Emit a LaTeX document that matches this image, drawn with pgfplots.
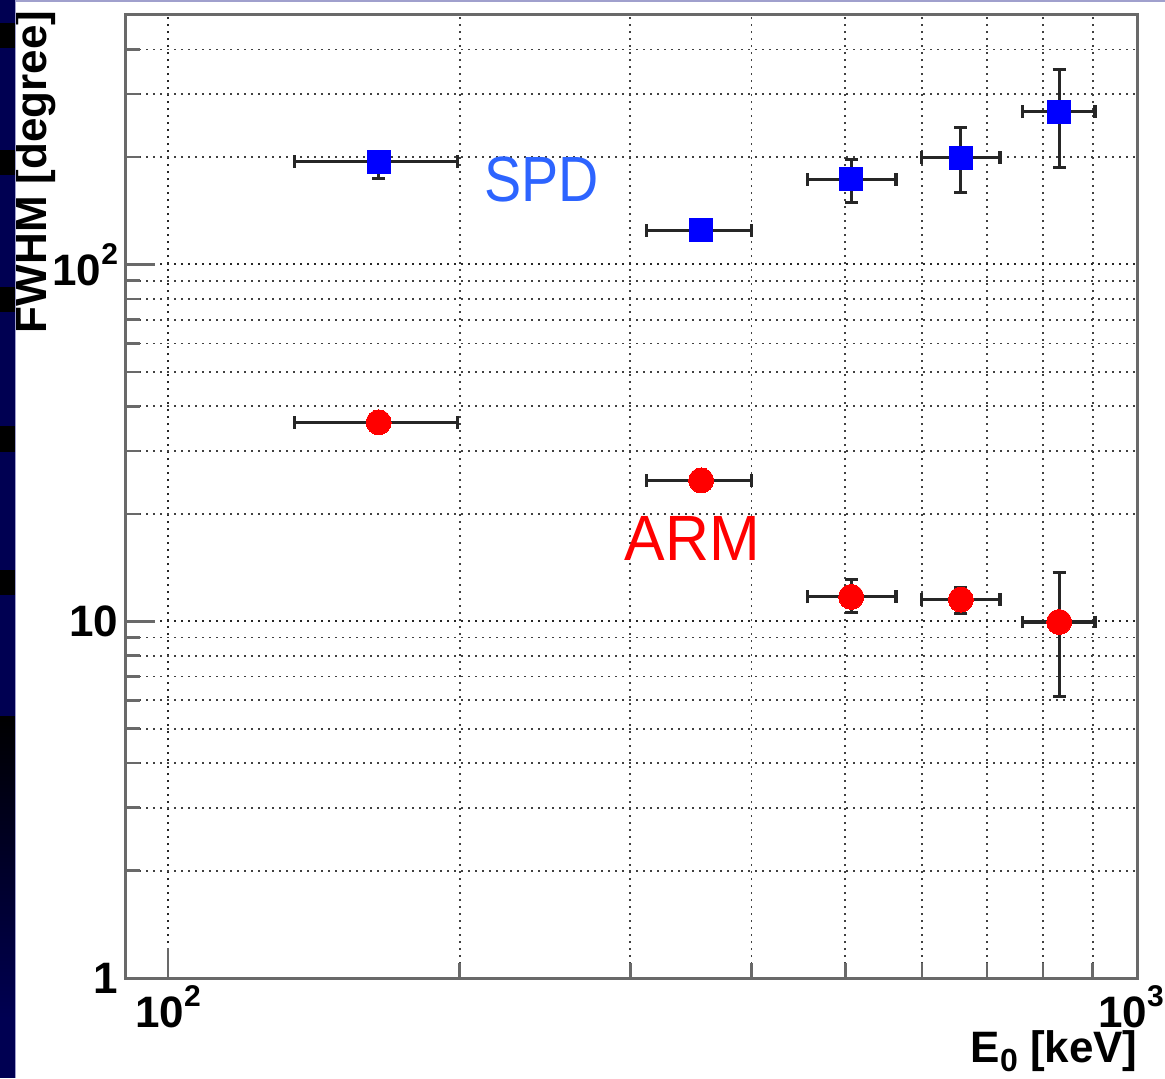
\documentclass[border=0pt]{standalone}
\usepackage{pgfplots}
\pgfplotsset{compat=1.18}
\usepackage{fontspec}
\setmainfont{Liberation Sans}

\definecolor{slidenavy}{RGB}{0,0,82}
\definecolor{slideline}{RGB}{160,160,205}
\definecolor{spdblue}{RGB}{45,100,255}
\definecolor{framegray}{RGB}{105,105,105}

\newcommand{\lbl}{\fontsize{22}{22}\selectfont\bfseries}
\newcommand{\expo}[1]{\raisebox{0.48em}{\fontsize{15}{15}\selectfont\bfseries #1}}

\begin{document}
\begin{tikzpicture}
  % page area and white background
  \path[use as bounding box] (-62.5pt,-50pt) rectangle (520pt,489pt);
  \fill[white] (-62.5pt,-50pt) rectangle (520pt,489pt);

  \begin{axis}[
    at={(0pt,0pt)}, anchor=south west,
    width=506pt, height=481.5pt, scale only axis,
    xmode=log, ymode=log,
    xmin=90.3, xmax=1000, ymin=1, ymax=500,
    xtick={100,1000},
    xticklabels={10\expo{2}, \hspace*{-6pt}10\expo{3}},
    minor xtick={200,300,400,500,600,700,800,900},
    ytick={1,10,100},
    yticklabels={1, 10, 10\expo{2}},
    minor ytick={2,3,4,5,6,7,8,9,20,30,40,50,60,70,80,90,200,300,400},
    grid=both,
    major grid style={black!85, line width=0.9pt, dash pattern=on 0.9pt off 2.6pt},
    minor grid style={black!75, line width=0.9pt, dash pattern=on 0.9pt off 2.6pt},
    tick align=inside, tick pos=left,
    major tick length=15pt, minor tick length=7.5pt,
    every tick/.style={framegray, line width=1.3pt},
    axis line style={framegray, line width=1.5pt},
    ticklabel style={font=\lbl},
    error bars/x dir=both, error bars/x explicit,
    error bars/y dir=both, error bars/y explicit,
    error bars/error bar style={black!85, line width=1.6pt},
    error bars/error mark options={black!85, line width=1.6pt, mark size=3.2pt, rotate=90},
  ]
    % SPD
    \addplot[blue, only marks, mark=square*, mark size=5.75pt,
             mark options={fill=blue, draw=blue, line width=0pt}]
      coordinates {
        (165,194) += (34,12) -= (30,20)
        (355,124.5) += (45,4) -= (43,4)
        (507,173) += (57,24) -= (50,24)
        (658,199) += (64,43) -= (59,40)
        (831,268) += (74,84) -= (69,81)
      };
    % ARM
    \addplot[red, only marks, mark=*, mark size=6.25pt,
             mark options={fill=red, draw=red, line width=0pt}]
      coordinates {
        (165,36.1) += (34,1.0) -= (30,1.0)
        (355,24.8) += (45,0.7) -= (43,0.7)
        (507,11.7) += (57,1.4) -= (50,1.1)
        (658,11.5) += (64,0.9) -= (59,1.0)
        (831,9.95) += (74,3.75) -= (69,3.8)
      };

    \node[text=spdblue, font=\fontsize{32}{32}\selectfont] at (axis cs:243,173) {\scalebox{0.87}[1]{SPD}};
    \node[text=red, font=\fontsize{32}{32}\selectfont] at (axis cs:347.5,17.1) {\scalebox{0.95}[1]{ARM}};
  \end{axis}

  % axis titles
  \node[rotate=90, anchor=base east, inner sep=0pt, font=\lbl] at (-39pt,484pt) {FWHM [degree]};
  \node[anchor=base east, inner sep=0pt, font=\lbl] at (506.5pt,-42pt)
    {E\raisebox{-0.22em}{\fontsize{16}{16}\selectfont\bfseries 0} [keV]};

  % slide border on the left and top
  \fill[slidenavy] (-62.5pt,-50pt) rectangle (-55pt,489pt);
  \foreach \a/\b in {465/477.5, 401.5/414, 333/345.5, 263/276, 191.5/204}
    \fill[black] (-62.5pt,\a pt) rectangle (-55pt,\b pt);
  \shade[top color=black, bottom color=slidenavy] (-62.5pt,-20pt) rectangle (-55pt,131pt);
  \fill[slidenavy] (-62.5pt,-50pt) rectangle (-55pt,-20pt);
  \fill[slideline] (-55pt,-50pt) rectangle (-54.4pt,489pt);
  \fill[slideline] (-55pt,488pt) rectangle (520pt,489pt);
\end{tikzpicture}
\end{document}
